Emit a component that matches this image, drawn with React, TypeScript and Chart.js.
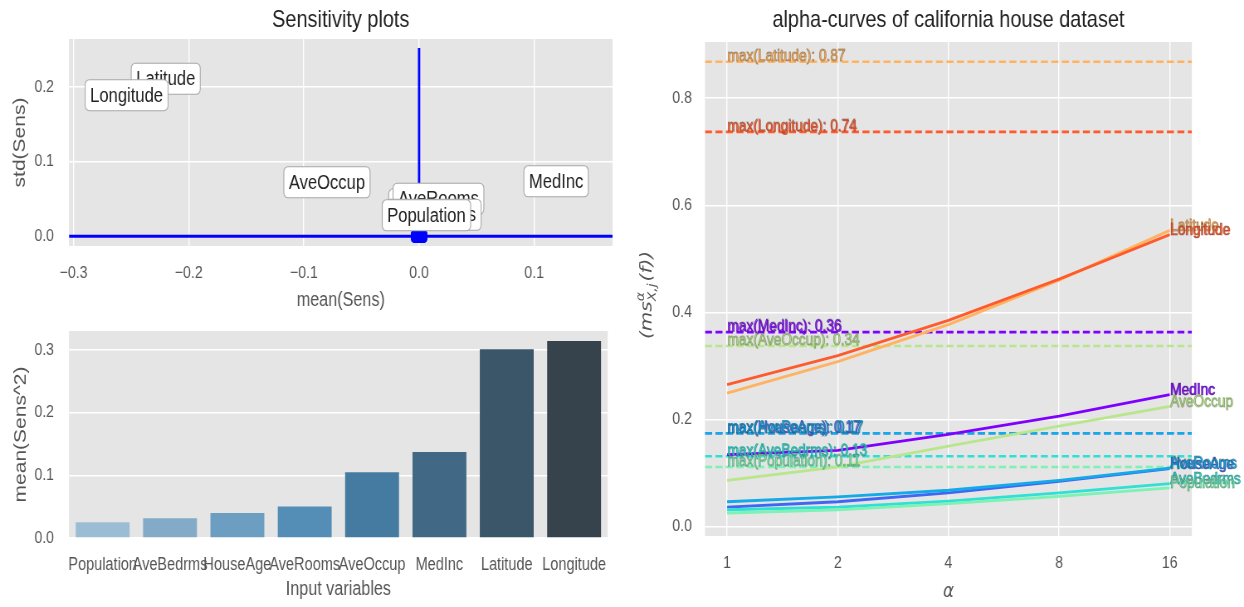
import React, { useEffect, useRef } from "react";
import { Chart, registerables } from "chart.js";
Chart.register(...registerables);

const SANS = '"Liberation Sans", Arial, sans-serif';
const MATH = '"DejaVu Sans", sans-serif';
const PANEL_BG = "#e5e5e5";
const TICK_COLOR = "#555555";
// horizontal squeeze of the whole figure (canvas drawn wider, shown narrower)
const SQ = 0.83;
const ix = (v: number) => v / SQ;

// ---------- Sensitivity scatter (top left) ----------
const sensFeatures = ["MedInc", "AveOccup", "HouseAge", "AveRooms", "AveBedrms", "Population", "Latitude", "Longitude"];
const sensMean = [0, 0, 0, 0, 0, 0, 0, 0];
const sensStd = [0, 0, 0, 0, 0, 0, 0, 0];
const labelMean = [0.119, -0.080, 0.0116, 0.0168, 0.0124, 0.0064, -0.220, -0.254];
const labelStd = [0.0736, 0.0723, 0.0428, 0.0502, 0.0288, 0.0281, 0.2108, 0.1888];
const vlineTop = 0.252;
const scatterXLimits = [-0.304, 0.168];
const scatterYLimits = [-0.013, 0.264];

// ---------- mean(Sens^2) bars (bottom left) ----------
const barLabels = ["Population", "AveBedrms", "HouseAge", "AveRooms", "AveOccup", "MedInc", "Latitude", "Longitude"];
const barValues = [0.0251, 0.0315, 0.040, 0.0502, 0.105, 0.137, 0.301, 0.314];
const barColors = ["#9bbdd4", "#83abc8", "#6b9ec1", "#548db5", "#457ba0", "#416885", "#3b5569", "#36434d"];
const barYMax = 0.33;

// ---------- alpha-curves (right) ----------
const alphaLabels = ["1", "2", "4", "8", "16"];
const curveFeatures = ["MedInc", "HouseAge", "AveRooms", "AveBedrms", "Population", "AveOccup", "Latitude", "Longitude"];
const medIncCurve = [0.134, 0.142, 0.172, 0.206, 0.246];
const houseAgeCurve = [0.036, 0.046, 0.0625, 0.084, 0.108];
const aveRoomsCurve = [0.046, 0.055, 0.0675, 0.086, 0.109];
const aveBedrmsCurve = [0.031, 0.036, 0.047, 0.0625, 0.080];
const populationCurve = [0.025, 0.031, 0.0425, 0.056, 0.072];
const aveOccupCurve = [0.086, 0.111, 0.150, 0.1875, 0.224];
const latitudeCurve = [0.249, 0.308, 0.377, 0.460, 0.553];
const longitudeCurve = [0.265, 0.319, 0.385, 0.462, 0.545];
const curveValues = [medIncCurve, houseAgeCurve, aveRoomsCurve, aveBedrmsCurve, populationCurve, aveOccupCurve, latitudeCurve, longitudeCurve];
const maxValues = [0.363, 0.174, 0.174, 0.131, 0.111, 0.337, 0.868, 0.737];
const curveColors = ["#8000ff", "#4066f4", "#14aae8", "#2fe0d5", "#7cf2b4", "#b9e68c", "#ffb360", "#ff5a2c"];
const alphaXLimits = [-0.2, 4.2];
const alphaYLimits = [-0.018, 0.905];

const fmt = (v: number, d: number) => {
  if (Math.abs(v) < 1e-9) return (0).toFixed(d);
  const s = v.toFixed(d);
  return s.startsWith("-") ? "\u2212" + s.slice(1) : s;
};

const bgPlugin = {
  id: "panelBg",
  beforeDraw(chart: any) {
    const { ctx, chartArea } = chart;
    ctx.save();
    ctx.fillStyle = PANEL_BG;
    ctx.fillRect(chartArea.left, chartArea.top, chartArea.right - chartArea.left, chartArea.bottom - chartArea.top);
    ctx.restore();
  },
};

const makeTitle = (text: string, y: number, size: number) => ({
  id: "panelTitle",
  afterDraw(chart: any) {
    const { ctx, chartArea } = chart;
    ctx.save();
    ctx.font = `${size}px ${SANS}`;
    ctx.fillStyle = "#222222";
    ctx.textAlign = "center";
    ctx.textBaseline = "middle";
    ctx.fillText(text, (chartArea.left + chartArea.right) / 2, y);
    ctx.restore();
  },
});

const boxLabelsPlugin = {
  id: "boxLabels",
  afterDatasetsDraw(chart: any) {
    const { ctx } = chart;
    const x = chart.scales.x;
    const y = chart.scales.y;
    ctx.save();
    ctx.font = `20px ${SANS}`;
    ctx.textAlign = "center";
    ctx.textBaseline = "middle";
    sensFeatures.forEach((name, i) => {
      const px = x.getPixelForValue(labelMean[i]);
      const py = y.getPixelForValue(labelStd[i]);
      const w = ctx.measureText(name).width + 12;
      const h = 31;
      ctx.beginPath();
      ctx.roundRect(px - w / 2, py - h / 2, w, h, 5);
      ctx.fillStyle = "#ffffff";
      ctx.fill();
      ctx.lineWidth = 1.1;
      ctx.strokeStyle = "#a8a8a8";
      ctx.stroke();
      ctx.fillStyle = "#222222";
      ctx.fillText(name, px, py + 1);
    });
    ctx.restore();
  },
};

const fuzzyText = (ctx: any, text: string, x: number, y: number, color: string) => {
  ctx.globalAlpha = 0.85;
  ctx.fillStyle = color;
  ctx.fillText(text, x, y);
  ctx.fillText(text, x + 1.1, y + 0.6);
  ctx.globalAlpha = 1;
  ctx.lineWidth = 0.8;
  ctx.strokeStyle = "rgba(40,40,40,0.38)";
  ctx.strokeText(text, x + 0.5, y + 0.3);
};

const curveLabelsPlugin = {
  id: "curveLabels",
  afterDatasetsDraw(chart: any) {
    const { ctx } = chart;
    const x = chart.scales.x;
    const y = chart.scales.y;
    ctx.save();
    ctx.font = `16.5px ${SANS}`;
    ctx.textAlign = "left";
    ctx.textBaseline = "alphabetic";
    curveFeatures.forEach((name, i) => {
      const c = curveColors[i];
      fuzzyText(ctx, `max(${name}): ${maxValues[i].toFixed(2)}`, x.getPixelForValue(0), y.getPixelForValue(maxValues[i]) - 1, c);
      const last = curveValues[i].length - 1;
      fuzzyText(ctx, name, x.getPixelForValue(last), y.getPixelForValue(curveValues[i][last]), c);
    });
    ctx.restore();
  },
};

const mathYLabelPlugin = {
  id: "mathYLabel",
  afterDraw(chart: any) {
    const { ctx } = chart;
    ctx.save();
    ctx.translate(ix(26), 295);
    ctx.rotate(-Math.PI / 2);
    ctx.fillStyle = TICK_COLOR;
    ctx.textBaseline = "alphabetic";
    ctx.textAlign = "left";
    const big = `italic 20px ${MATH}`;
    const small = `italic 14px ${MATH}`;
    ctx.font = big;
    const w1 = ctx.measureText("(ms").width;
    const w4 = ctx.measureText("(f))").width;
    ctx.font = small;
    const w2 = ctx.measureText("\u03b1").width;
    const w3 = ctx.measureText("X,j").width;
    const total = w1 + Math.max(w2, w3) + 2 + w4;
    let cx = -total / 2;
    const base = 7;
    ctx.font = big;
    ctx.fillText("(ms", cx, base);
    cx += w1;
    ctx.font = small;
    ctx.fillText("\u03b1", cx, base - 9);
    ctx.fillText("X,j", cx, base + 5);
    cx += Math.max(w2, w3) + 2;
    ctx.font = big;
    ctx.fillText("(f))", cx, base);
    ctx.restore();
  },
};

const gridOpts = { color: "#ffffff", lineWidth: 1.4, drawTicks: false };
const tickFont = (size: number) => ({ family: SANS, size });

const LEFT_W = Math.round(ix(620));
const RIGHT_W = Math.round(ix(624));

function makeBlobMarker() {
  const c = document.createElement("canvas");
  c.width = 20;
  c.height = 13;
  const g = c.getContext("2d") as CanvasRenderingContext2D;
  g.fillStyle = "#0000ff";
  g.beginPath();
  g.roundRect(0.5, 0.5, 19, 12, 4);
  g.fill();
  return c;
}

function scatterConfig(): any {
  return {
    type: "scatter",
    data: {
      datasets: [
        {
          data: sensMean.map((m, i) => ({ x: m, y: sensStd[i] })),
          backgroundColor: "#0000ff",
          borderColor: "#0000ff",
          pointStyle: makeBlobMarker(),
          pointRadius: 8,
          clip: 0,
        },
        {
          data: [{ x: 0, y: 0 }, { x: 0, y: vlineTop }],
          showLine: true,
          borderColor: "#0000ff",
          borderWidth: 2.8,
          pointRadius: 0,
        },
        {
          data: [{ x: scatterXLimits[0], y: 0 }, { x: scatterXLimits[1], y: 0 }],
          showLine: true,
          borderColor: "#0000ff",
          borderWidth: 3,
          pointRadius: 0,
        },
      ],
    },
    options: {
      responsive: false,
      animation: false,
      events: [],
      layout: { padding: { top: 39, right: LEFT_W - ix(615), left: 0, bottom: 0 } },
      plugins: { legend: { display: false }, tooltip: { enabled: false } },
      scales: {
        x: {
          type: "linear",
          min: scatterXLimits[0],
          max: scatterXLimits[1],
          afterFit: (s: any) => { s.height = 74; },
          grid: gridOpts,
          border: { display: false },
          ticks: { stepSize: 0.1, includeBounds: false, font: tickFont(17), color: TICK_COLOR, padding: 17.5, maxRotation: 0, callback: (v: number) => fmt(v, 1) },
          title: { display: true, text: "mean(Sens)", font: { family: SANS, size: 19.5 }, color: TICK_COLOR, padding: { top: 0, bottom: 8 } },
        },
        y: {
          type: "linear",
          min: scatterYLimits[0],
          max: scatterYLimits[1],
          afterFit: (s: any) => { s.width = ix(69); },
          grid: gridOpts,
          border: { display: false },
          ticks: { stepSize: 0.1, includeBounds: false, font: tickFont(17), color: TICK_COLOR, padding: ix(15), callback: (v: number) => fmt(v, 1) },
          title: { display: true, text: "std(Sens)", font: { family: SANS, size: 21 }, color: TICK_COLOR, padding: { top: ix(20) - 12.6, bottom: 0 } },
        },
      },
    },
    plugins: [bgPlugin, boxLabelsPlugin, makeTitle("Sensitivity plots", 20, 24)],
  };
}

function barConfig(): any {
  return {
    type: "bar",
    data: {
      labels: barLabels,
      datasets: [
        {
          data: barValues,
          backgroundColor: barColors,
          barPercentage: 0.8,
          categoryPercentage: 1,
        },
      ],
    },
    options: {
      responsive: false,
      animation: false,
      events: [],
      layout: { padding: { top: 31, right: LEFT_W - ix(615), left: 0, bottom: 0 } },
      plugins: { legend: { display: false }, tooltip: { enabled: false } },
      scales: {
        x: {
          afterFit: (s: any) => { s.height = 69; },
          grid: { display: false, drawTicks: false },
          border: { display: false },
          ticks: { autoSkip: false, maxRotation: 0, minRotation: 0, font: tickFont(17.5), color: TICK_COLOR, padding: 16.5 },
          title: { display: true, text: "Input variables", font: { family: SANS, size: 19.5 }, color: TICK_COLOR, padding: { top: 0, bottom: 5.5 } },
        },
        y: {
          type: "linear",
          min: 0,
          max: barYMax,
          afterFit: (s: any) => { s.width = ix(69); },
          grid: gridOpts,
          border: { display: false },
          ticks: { stepSize: 0.1, includeBounds: false, font: tickFont(17), color: TICK_COLOR, padding: ix(15), callback: (v: number) => fmt(v, 1) },
          title: { display: true, text: "mean(Sens^2)", font: { family: SANS, size: 21 }, color: TICK_COLOR, padding: { top: ix(20.6) - 12.6, bottom: 0 } },
        },
      },
    },
    plugins: [bgPlugin],
  };
}

function alphaConfig(): any {
  const datasets: any[] = [];
  curveFeatures.forEach((name, i) => {
    datasets.push({
      label: name,
      data: curveValues[i].map((v, j) => ({ x: j, y: v })),
      showLine: true,
      borderColor: curveColors[i],
      borderWidth: 2.8,
      pointRadius: 0,
      order: 20 - i,
    });
    datasets.push({
      label: `max(${name})`,
      data: [{ x: alphaXLimits[0], y: maxValues[i] }, { x: alphaXLimits[1], y: maxValues[i] }],
      showLine: true,
      borderColor: curveColors[i],
      borderWidth: 2.6,
      borderDash: [ix(7), ix(3.5)],
      pointRadius: 0,
      order: 40 - i,
    });
  });
  return {
    type: "scatter",
    data: { datasets },
    options: {
      responsive: false,
      animation: false,
      events: [],
      layout: { padding: { top: 42, right: RIGHT_W - ix(572), left: 0, bottom: 0 } },
      plugins: { legend: { display: false }, tooltip: { enabled: false } },
      scales: {
        x: {
          type: "linear",
          min: alphaXLimits[0],
          max: alphaXLimits[1],
          afterFit: (s: any) => { s.height = 71; },
          grid: gridOpts,
          border: { display: false },
          ticks: { stepSize: 1, includeBounds: false, font: tickFont(17), color: TICK_COLOR, padding: 17, maxRotation: 0, callback: (v: number) => alphaLabels[Math.round(v)] ?? "" },
          title: { display: true, text: "\u03b1", font: { family: MATH, size: 20, style: "italic" }, color: TICK_COLOR, padding: { top: 0, bottom: 3 } },
        },
        y: {
          type: "linear",
          min: alphaYLimits[0],
          max: alphaYLimits[1],
          afterFit: (s: any) => { s.width = ix(85); },
          grid: gridOpts,
          border: { display: false },
          ticks: { stepSize: 0.2, includeBounds: false, font: tickFont(17), color: TICK_COLOR, padding: ix(13), callback: (v: number) => fmt(v, 1) },
        },
      },
    },
    plugins: [bgPlugin, curveLabelsPlugin, mathYLabelPlugin, makeTitle("alpha-curves of california house dataset", 20, 24)],
  };
}

function ChartCanvas({ make, left, top, width, height, innerWidth }: { make: () => any; left: number; top: number; width: number; height: number; innerWidth: number }) {
  const ref = useRef<HTMLCanvasElement>(null);
  useEffect(() => {
    const chart = new Chart(ref.current as HTMLCanvasElement, make());
    return () => chart.destroy();
  }, []);
  return (
    <canvas
      ref={ref}
      width={innerWidth}
      height={height}
      style={{ position: "absolute", left, top, width, height, display: "block" }}
    />
  );
}

export default function App() {
  return (
    <div style={{ position: "fixed", left: 0, top: 0, width: 1244, height: 607, background: "#ffffff", overflow: "hidden" }}>
      <ChartCanvas make={scatterConfig} left={0} top={0} width={620} height={320} innerWidth={LEFT_W} />
      <ChartCanvas make={barConfig} left={0} top={300} width={620} height={307} innerWidth={LEFT_W} />
      <ChartCanvas make={alphaConfig} left={620} top={0} width={624} height={607} innerWidth={RIGHT_W} />
    </div>
  );
}
